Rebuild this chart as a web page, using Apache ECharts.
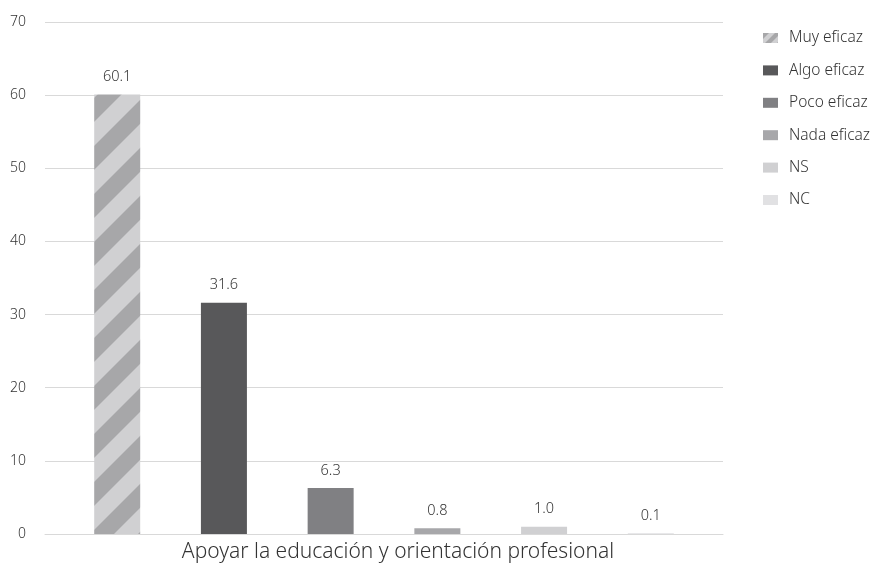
<!DOCTYPE html>
<html><head><meta charset="utf-8">
<script src="https://cdn.jsdelivr.net/npm/echarts@6/dist/echarts.min.js"></script>
<style>html,body{margin:0;padding:0;background:#fff}#c{width:873px;height:568px}</style>
</head><body><div id="c"></div>
<script>
const categories = ['Apoyar la educación y orientación profesional'];
const seriesNames = ['Muy eficaz', 'Algo eficaz', 'Poco eficaz', 'Nada eficaz', 'NS', 'NC'];
const seriesValues = [[60.1], [31.6], [6.3], [0.8], [1.0], [0.1]];
const yTicks = [0, 10, 20, 30, 40, 50, 60, 70];

function stripes(s) {
  const c = document.createElement('canvas');
  c.width = s; c.height = s;
  const g = c.getContext('2d');
  const h = s / 2;
  g.fillStyle = '#d0d0d2'; g.fillRect(0, 0, s, s);
  g.fillStyle = '#a7a7a9';
  for (const c0 of [-s, 0, s, 2 * s]) {
    g.beginPath();
    g.moveTo(c0, 0); g.lineTo(c0 + h, 0); g.lineTo(c0 + h - s, s); g.lineTo(c0 - s, s);
    g.closePath(); g.fill();
  }
  return c;
}
const colors = [{image: stripes(48), repeat: 'repeat'}, '#58585a', '#808083', '#a7a7aa', '#d0d0d2', '#e1e1e3'];
const font = '"Noto Sans", sans-serif';
const txt = '#333333';

const chart = echarts.init(document.getElementById('c'));
chart.setOption({
  animation: false,
  textStyle: {fontFamily: font},
  grid: {left: 45, right: 150, top: 22, bottom: 34},
  legend: {
    orient: 'vertical', left: 758, top: 25, icon: 'rect',
    itemWidth: 15, itemHeight: 10, itemGap: 16.4,
    textStyle: {fontSize: 15.5, color: txt, lineHeight: 16, fontFamily: font, fontWeight: 300, padding: [0, 0, 0, 6]},
    data: seriesNames.map((n, i) => i === 0 ? {name: n, itemStyle: {color: {image: stripes(12), repeat: 'repeat'}}} : n)
  },
  xAxis: {
    type: 'category', data: categories,
    axisLine: {lineStyle: {color: '#d9d9d9'}},
    axisTick: {show: false},
    axisLabel: {fontSize: 21, color: txt, margin: 8, fontFamily: font, fontWeight: 300, padding: [0, 0, 0, 28]}
  },
  yAxis: {
    type: 'value', min: yTicks[0], max: yTicks[yTicks.length - 1], interval: 10,
    axisLine: {show: false}, axisTick: {show: false},
    splitLine: {lineStyle: {color: '#d9d9d9'}},
    axisLabel: {fontSize: 14, color: txt, margin: 19, fontFamily: font, fontWeight: 300}
  },
  series: seriesNames.map((n, i) => ({
    name: n, type: 'bar', data: seriesValues[i],
    barWidth: 46, barGap: '132%',
    itemStyle: {color: colors[i]},
    label: {show: true, position: 'top', distance: 10, fontSize: 14.5, color: txt,
      fontFamily: font, fontWeight: 300, formatter: p => p.value.toFixed(1)}
  }))
});
</script></body></html>
